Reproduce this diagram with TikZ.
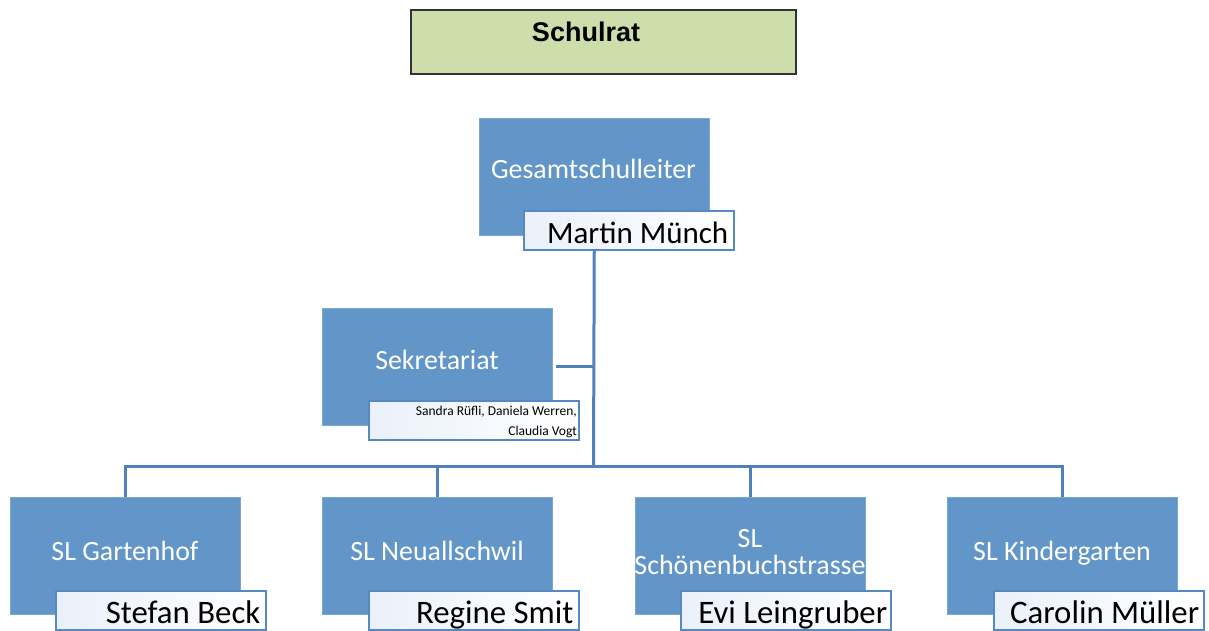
\documentclass[tikz,border=0pt]{standalone}
\usepackage{fontspec}
\setmainfont{Carlito}
\newfontfamily\arialfont{Liberation Sans}
\usetikzlibrary{backgrounds}
\definecolor{boxblue}{RGB}{98,150,201}
\definecolor{lineblue}{RGB}{79,129,189}
\definecolor{nameblue}{RGB}{86,136,196}
\definecolor{tintblue}{RGB}{234,241,250}
\definecolor{schulgreen}{RGB}{205,221,172}
\definecolor{schuledge}{RGB}{50,50,50}
\begin{document}
\begin{tikzpicture}[x=1pt,y=-1pt,
  schulbox/.style={draw=schuledge, line width=1.5pt, fill=schulgreen, minimum width=385pt, minimum height=64pt, anchor=north west, inner sep=0pt},
  schultext/.style={font=\arialfont\bfseries\fontsize{27}{30}\selectfont, inner sep=0pt, anchor=base},
  bluebox/.style={draw=boxblue!85!white, line width=0.6pt, fill=boxblue, minimum width=230pt, minimum height=117pt, anchor=north west, inner sep=0pt},
  titletext/.style={text=white, font=\fontsize{27.9}{27}\selectfont, align=center, inner sep=0pt, anchor=base},
  namebox/.style={draw=nameblue, line width=2pt, left color=tintblue, right color=white, minimum width=210pt, minimum height=39pt, anchor=north west, inner sep=0pt},
  nametext/.style={font=\fontsize{32.8}{34}\selectfont, inner sep=0pt, anchor=base east},
  smalltext/.style={font=\fontsize{13.5}{20}\selectfont, inner sep=0pt, anchor=base east},
  conn/.style={draw=lineblue, line width=3pt}
]
\useasboundingbox (0,0) rectangle (1209,630);

% Schulrat
\node[schulbox] (sr) at (410,9) {};
\node[schultext] (srt) at (586,41) {Schulrat};

% Gesamtschulleiter
\node[bluebox] (gl) at (479,118) {};
\node[titletext] (glt) at (593.5,178) {Gesamtschulleiter};
\node[namebox] (gln) at (523,210) {};
\node[nametext, font=\fontsize{31}{32}\selectfont] (glm) at ([xshift=-6.5pt,yshift=7.5pt]gln.south east) {Martin Münch};

% Sekretariat
\node[bluebox] (sek) at (322,308) {};
\node[titletext] (sekt) at (437,369) {Sekretariat};
\node[namebox] (sekn) at (368,400) {};
\node[smalltext] (sekm1) at ([xshift=-3pt,yshift=25.5pt]sekn.south east) {Sandra Rüfli, Daniela Werren,};
\node[smalltext] (sekm2) at ([xshift=-3pt,yshift=5.5pt]sekn.south east) {Claudia Vogt};

% Schulleitungen
\node[bluebox] (b1) at (10,497) {};
\node[titletext] (b1t) at (125,560) {SL Gartenhof};
\node[namebox] (b1n) at (55,590) {};
\node[nametext] (b1m) at ([xshift=-6.5pt,yshift=7.5pt]b1n.south east) {Stefan Beck};

\node[bluebox] (b2) at (322,497) {};
\node[titletext] (b2t) at (437,560) {SL Neuallschwil};
\node[namebox] (b2n) at (368,590) {};
\node[nametext] (b2m) at ([xshift=-6.5pt,yshift=7.5pt]b2n.south east) {Regine Smit};

\node[bluebox] (b3) at (635,497) {};
\node[titletext, anchor=center] (b3t) at (750,552) {SL\\Schönenbuchstrasse};
\node[namebox] (b3n) at (680,590) {};
\node[nametext] (b3m) at ([xshift=-4.5pt,yshift=7.5pt]b3n.south east) {Evi Leingruber};

\node[bluebox] (b4) at (947,497) {};
\node[titletext] (b4t) at (1062,560) {SL Kindergarten};
\node[namebox] (b4n) at (993,590) {};
\node[nametext] (b4m) at ([xshift=-5.5pt,yshift=7.5pt]b4n.south east) {Carolin Müller};

\coordinate (bus) at (593.5,466);

\begin{scope}[on background layer]
  \draw[conn] (gl.south) -- (bus);
  \draw[conn] ([xshift=3pt]sek.east) -- (sek.east -| bus);
  \draw[conn] (b1.north) |- (bus) -| (b4.north);
  \draw[conn] (b2.north) -- (b2.north |- bus);
  \draw[conn] (b3.north) -- (b3.north |- bus);
\end{scope}
\end{tikzpicture}
\end{document}
